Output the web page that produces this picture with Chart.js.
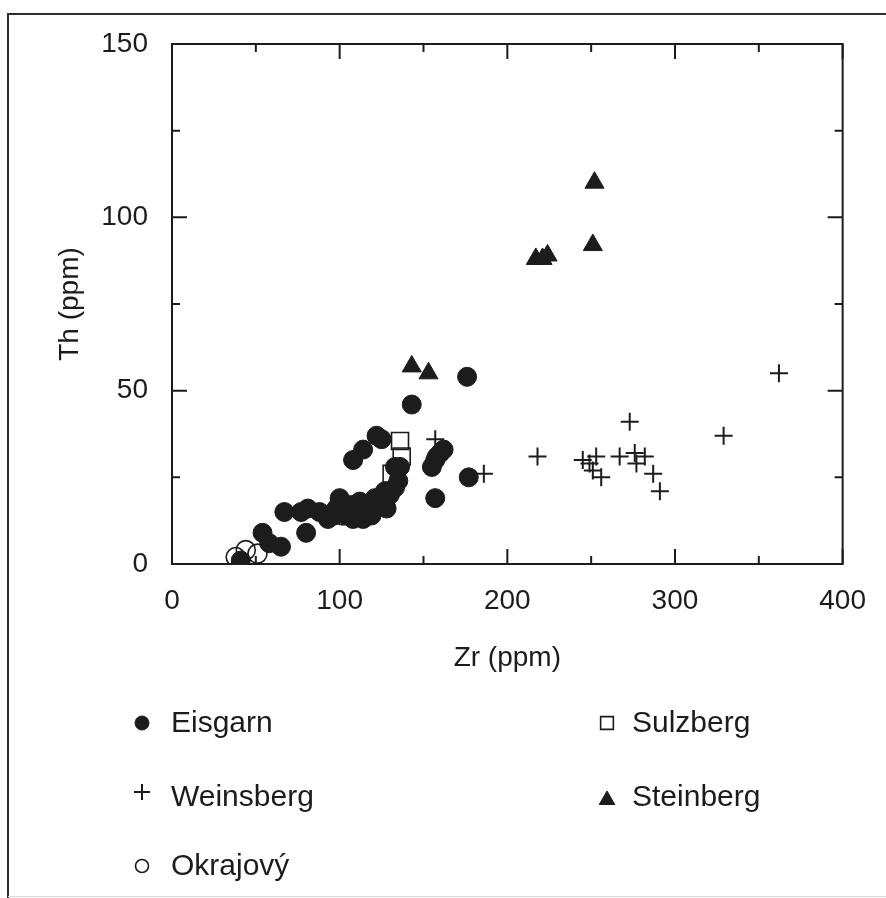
<!DOCTYPE html>
<html>
<head>
<meta charset="utf-8">
<script src="https://cdn.jsdelivr.net/npm/chart.js@4.4.1/dist/chart.umd.min.js"></script>
<style>
  html, body { margin: 0; padding: 0; background: #fff; }
  #wrap { position: relative; width: 886px; height: 898px; }
</style>
</head>
<body>
<div id="wrap"><canvas id="c" width="886" height="898"></canvas></div>
<script>
// ---- data (Zr ppm, Th ppm) ----
const eisgarn = [
  [41,1],[54,9],[58,6],[65,5],[67,15],[77,15],[81,16],[80,9],[88,15],[93,13],[97,14],[98,16],
  [100,19],[102,17],[104,14],[105,15],[107,17],[108,13],[110,16],[111,14],[112,18],[114,13],
  [116,14],[118,16],[119,14],[121,19],[124,17],[125,18],[127,21],[128,16],[130,20],[133,22],
  [135,24],[133,28],[136,28],[108,30],[114,33],[122,37],[125,36],[143,46],[155,28],[157,30],
  [158,31],[160,32],[162,33],[157,19],[176,54],[177,25]
];
const weinsberg = [
  [157,36],[186,26],[218,31],[245,30],[249,29],[251,27],[253,31],[256,25],[267,31],[273,41],
  [276,32],[277,29],[282,31],[287,26],[291,21],[329,37],[362,55]
];
const okrajovy = [[38,2],[44,4],[51,3],[102,14]];
const sulzberg = [[136,35.5],[137,31],[131,26]];
const steinberg = [[143,57],[153,55],[217,88],[221,88],[224,89],[251,92],[252,110]];

const xRange = [0, 400], xStep = 100, xMinorStep = 50;
const yRange = [0, 150], yStep = 50, yMinorStep = 25;
const xTitle = 'Zr (ppm)';
const yTitle = 'Th (ppm)';

const toPts = arr => arr.map(p => ({x: p[0], y: p[1]}));
const INK = '#1c1c1c';
const FONT = '"Liberation Sans", Arial, sans-serif';
const FS = 28;
const LEGEND_FS = 30;

const datasets = [
  { label: 'Eisgarn', data: toPts(eisgarn), pointStyle: 'circle', pointRadius: 9.5,
    backgroundColor: INK, borderColor: INK, borderWidth: 1,
    legend: {col: 0, row: 0, radius: 7} },
  { label: 'Weinsberg', data: toPts(weinsberg), pointStyle: 'cross', pointRadius: 9,
    backgroundColor: INK, borderColor: INK, borderWidth: 2,
    legend: {col: 0, row: 1, radius: 8} },
  { label: 'Okrajový', data: toPts(okrajovy), pointStyle: 'circle', pointRadius: 9.5,
    backgroundColor: 'rgba(0,0,0,0)', borderColor: INK, borderWidth: 1.6,
    legend: {col: 0, row: 2, radius: 6.5} },
  { label: 'Sulzberg', data: toPts(sulzberg), pointStyle: 'rect', pointRadius: 12,
    backgroundColor: 'rgba(0,0,0,0)', borderColor: INK, borderWidth: 1.6,
    legend: {col: 1, row: 0, radius: 9} },
  { label: 'Steinberg', data: toPts(steinberg), pointStyle: 'triangle', pointRadius: 11,
    backgroundColor: INK, borderColor: INK, borderWidth: 1,
    legend: {col: 1, row: 1, radius: 9} }
];

const frameTicks = {
  id: 'frameTicks',
  beforeDatasetsDraw(chart) {
    const ctx = chart.ctx, a = chart.chartArea;
    const xs = chart.scales.x, ys = chart.scales.y;
    ctx.save();
    ctx.strokeStyle = INK;
    ctx.lineWidth = 2;
    ctx.strokeRect(a.left, a.top, a.right - a.left, a.bottom - a.top);
    ctx.beginPath();
    for (let v = xRange[0]; v <= xRange[1]; v += xMinorStep) {
      const px = xs.getPixelForValue(v);
      const len = (v % xStep === 0) ? 15 : 8;
      ctx.moveTo(px, a.bottom); ctx.lineTo(px, a.bottom - len);
      ctx.moveTo(px, a.top); ctx.lineTo(px, a.top + len);
    }
    for (let v = yRange[0]; v <= yRange[1]; v += yMinorStep) {
      const py = ys.getPixelForValue(v);
      const len = (v % yStep === 0) ? 15 : 8;
      ctx.moveTo(a.left, py); ctx.lineTo(a.left + len, py);
      ctx.moveTo(a.right, py); ctx.lineTo(a.right - len, py);
    }
    ctx.stroke();
    ctx.restore();
  },
  afterDraw(chart) {
    const ctx = chart.ctx;
    ctx.save();
    // outer figure frame
    ctx.strokeStyle = '#2e2e2e';
    ctx.lineWidth = 2;
    ctx.beginPath();
    ctx.moveTo(8, 898); ctx.lineTo(8, 14); ctx.lineTo(886, 14);
    ctx.stroke();
    ctx.strokeStyle = '#d8d8d8';
    ctx.lineWidth = 1;
    ctx.beginPath(); ctx.moveTo(8, 896.5); ctx.lineTo(886, 896.5); ctx.stroke();
    // legend
    const colMarker = [142, 607], colText = [171, 632], rowY = [723, 797, 866];
    ctx.font = LEGEND_FS + 'px ' + FONT;
    ctx.textBaseline = 'middle';
    ctx.textAlign = 'left';
    chart.data.datasets.forEach(ds => {
      const L = ds.legend;
      const y = rowY[L.row];
      ctx.fillStyle = ds.backgroundColor;
      ctx.strokeStyle = ds.borderColor;
      ctx.lineWidth = ds.borderWidth;
      Chart.helpers.drawPoint(ctx, {pointStyle: ds.pointStyle, radius: L.radius, rotation: 0,
        borderWidth: ds.borderWidth}, colMarker[L.col],
        y + (ds.pointStyle === 'triangle' ? 3 : 0) - (ds.pointStyle === 'cross' ? 5 : 0));
      ctx.fillStyle = INK;
      ctx.fillText(ds.label, colText[L.col], y + 1);
    });
    ctx.restore();
  }
};

new Chart(document.getElementById('c'), {
  type: 'scatter',
  data: { datasets },
  options: {
    responsive: false,
    animation: false,
    devicePixelRatio: 1,
    layout: { padding: { left: 0, top: 44, right: 41, bottom: 223 } },
    plugins: { legend: { display: false }, tooltip: { enabled: false } },
    scales: {
      x: {
        type: 'linear', min: xRange[0], max: xRange[1],
        grid: { display: false, drawTicks: false },
        border: { display: false },
        ticks: { stepSize: xStep, padding: 20, color: INK, font: { family: FONT, size: FS } },
        title: { display: true, text: xTitle, color: INK, padding: { top: 0, bottom: 0 },
                 font: { family: FONT, size: FS } },
        afterFit(s) { s.height = 111; }
      },
      y: {
        type: 'linear', min: yRange[0], max: yRange[1],
        grid: { display: false, drawTicks: false },
        border: { display: false },
        ticks: { stepSize: yStep, padding: 24, color: INK, font: { family: FONT, size: FS } },
        title: { display: true, text: yTitle, color: INK, padding: { top: 53, bottom: 0 },
                 font: { family: FONT, size: FS } },
        afterFit(s) { s.width = 172; }
      }
    }
  },
  plugins: [frameTicks]
});
</script>
</body>
</html>
